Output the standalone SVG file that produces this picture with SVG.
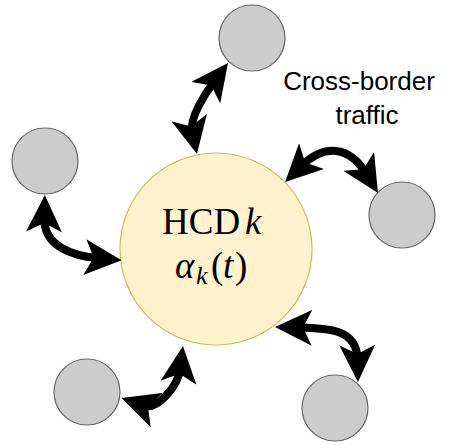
<svg xmlns="http://www.w3.org/2000/svg" width="459" height="445" viewBox="0 0 459 445">
<style>
.node{fill:#cccccc;stroke:#666666;stroke-width:1.2}
.hcd{fill:#fff2cc;stroke:#d6b656;stroke-width:1.2}
.arr{fill:none;stroke:#000;stroke-width:8;marker-start:url(#head);marker-end:url(#head)}
.cm{font-family:"Liberation Serif","DejaVu Serif",serif;fill:#000}
.lbl{font-family:"Liberation Sans",Arial,sans-serif;font-size:26px;fill:#000;text-anchor:middle}
</style>
<defs>
<marker id="head" markerUnits="userSpaceOnUse" viewBox="0 0 37 36" markerWidth="37" markerHeight="36" refX="14" refY="18" orient="auto-start-reverse">
<path d="M0,0 L37,18 L0,36 L9,18 Z" fill="#000"/>
</marker>
</defs>
<g id="hcd">
<circle class="hcd" cx="216" cy="249" r="96"/>
<text class="cm" font-size="37" x="162" y="234">HCD<tspan x="245" font-style="italic">k</tspan></text>
<text class="cm" font-size="37" y="278"><tspan x="175" font-style="italic">α</tspan><tspan x="196" y="284" font-size="26" font-style="italic">k</tspan><tspan x="211" y="278">(</tspan><tspan x="223" font-style="italic">t</tspan><tspan x="235">)</tspan></text>
</g>
<g id="n-top"><circle class="node" cx="252" cy="38" r="33"/></g>
<g id="n-left"><circle class="node" cx="45" cy="161" r="33"/></g>
<g id="n-right"><circle class="node" cx="402" cy="215" r="33"/></g>
<g id="n-bottomleft"><circle class="node" cx="87" cy="392" r="33"/></g>
<g id="n-bottomright"><circle class="node" cx="335" cy="408" r="33"/></g>
<g id="label"><text class="lbl" x="359" y="90">Cross-border</text><text class="lbl" x="367" y="124">traffic</text></g>
<g id="connectors">
<path class="arr" d="M192.2,131.5 C189.3,117.8 205.8,92.6 214.2,81.4"/>
<path class="arr" d="M301.6,165.9 C324.6,143.5 349.4,146.2 366,173.4"/>
<path class="arr" d="M44.3,218 C43.6,246 72,256 98.7,258.3"/>
<path class="arr" d="M180.2,368.8 C178.3,384.6 158.4,410.7 143.3,405.5"/>
<path class="arr" d="M298,327.5 C328,328.1 356.9,329 357.5,359"/>
</g>
</svg>
